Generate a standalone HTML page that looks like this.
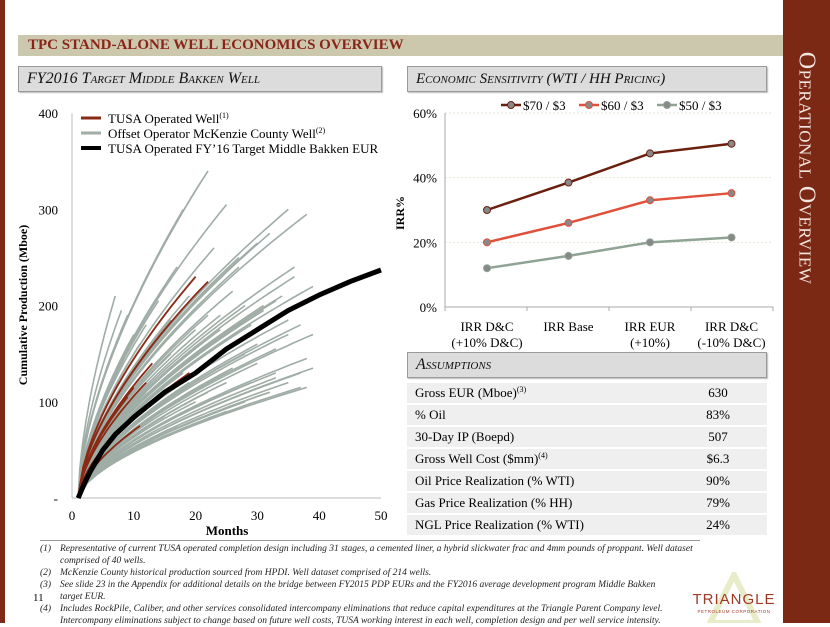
<!DOCTYPE html>
<html><head><meta charset="utf-8">
<style>
body{margin:0;width:830px;height:623px;overflow:hidden;background:#fff;font-family:"Liberation Serif",serif;position:relative}
.abs{position:absolute}
.sub{position:absolute;background:#dcdcdc;border:1px solid #9a9a9a;box-shadow:1px 1px 1px #bbb;font-style:italic;font-variant:small-caps;font-size:16px;color:#111;padding-left:8px;line-height:24px;box-sizing:border-box}
.row{position:absolute;left:407px;width:360px;height:20px;background:#efefef;font-size:13px;line-height:20px}
.row span{position:absolute;white-space:nowrap}
.row span.v{left:281px;width:60px;text-align:center}
.row sup{font-size:8px;line-height:0;vertical-align:5px}
.fn{position:absolute;left:60px;font-style:italic;font-size:9.5px;line-height:12px;color:#222;width:645px}
.fn b{position:absolute;left:-20px;font-weight:normal}
</style></head><body>
<div class="abs" style="left:0;top:0;width:5px;height:623px;background:#7e2a14"></div>
<div class="abs" style="left:783px;top:0;width:47px;height:623px;background:#7b2814"></div>
<div class="abs" style="left:806px;top:168px;width:0;height:0"><div style="position:absolute;transform:translate(-50%,-50%) rotate(90deg);white-space:nowrap;color:#f3e6e0;font-size:24px;font-variant:small-caps;letter-spacing:0.5px">Operational Overview</div></div>
<div class="abs" style="left:18px;top:35px;width:765px;height:21px;background:#cbc8ad;color:#8b2318;font-weight:bold;font-size:15px;line-height:21px;padding-left:10px;box-sizing:border-box">TPC STAND-ALONE WELL ECONOMICS OVERVIEW</div>
<div class="sub" style="left:18px;top:66px;width:364px;height:26px">FY2016 Target Middle Bakken Well</div>
<div class="sub" style="left:407px;top:66px;width:360px;height:26px;font-size:15px">Economic Sensitivity (WTI / HH Pricing)</div>

<svg class="abs" style="left:0;top:95px" width="400" height="450" id="lc"></svg>
<svg class="abs" style="left:395px;top:95px" width="385" height="255" id="rc"></svg>

<div class="sub" style="left:407px;top:352px;width:360px;height:26px">Assumptions</div>
<div class="row" style="top:383px"><span style="left:8px">Gross EUR (Mboe)<sup>(3)</sup></span><span class="v">630</span></div>
<div class="row" style="top:405px"><span style="left:8px">% Oil</span><span class="v">83%</span></div>
<div class="row" style="top:427px"><span style="left:8px">30-Day IP (Boepd)</span><span class="v">507</span></div>
<div class="row" style="top:449px"><span style="left:8px">Gross Well Cost ($mm)<sup>(4)</sup></span><span class="v">$6.3</span></div>
<div class="row" style="top:471px"><span style="left:8px">Oil Price Realization (% WTI)</span><span class="v">90%</span></div>
<div class="row" style="top:493px"><span style="left:8px">Gas Price Realization (% HH)</span><span class="v">79%</span></div>
<div class="row" style="top:515px"><span style="left:8px">NGL Price Realization (% WTI)</span><span class="v">24%</span></div>

<div class="abs" style="left:40px;top:540px;width:660px;height:1px;background:#999"></div>
<div class="fn" style="top:543px"><b>(1)</b>Representative of current TUSA operated completion design including 31 stages, a cemented liner, a hybrid slickwater frac and 4mm pounds of proppant. Well dataset comprised of 40 wells.</div>
<div class="fn" style="top:567px"><b>(2)</b>McKenzie County historical production sourced from HPDI. Well dataset comprised of 214 wells.</div>
<div class="fn" style="top:579px;width:615px"><b>(3)</b>See slide 23 in the Appendix for additional details on the bridge between FY2015 PDP EURs and the FY2016 average development program Middle Bakken target EUR.</div>
<div class="fn" style="top:603px;width:630px"><b>(4)</b>Includes RockPile, Caliber, and other services consolidated intercompany eliminations that reduce capital expenditures at the Triangle Parent Company level. Intercompany eliminations subject to change based on future well costs, TUSA working interest in each well, completion design and per well service intensity.</div>
<div class="abs" style="left:33px;top:592px;font-size:11px">11</div>
<svg class="abs" style="left:692px;top:572px" width="88" height="51"><polygon points="42,3 18,51 66,51" fill="none" stroke="#e9ecc8" stroke-width="6"/><text x="42" y="32" text-anchor="middle" font-family="Liberation Sans" font-size="15" fill="#9c3a26" letter-spacing="1">TRIANGLE</text><text x="42" y="41" text-anchor="middle" font-family="Liberation Sans" font-size="4.5" fill="#9c3a26" letter-spacing="0.5">PETROLEUM CORPORATION</text></svg>

<script>
// ---------- Left chart data ----------
const eurMonths=[1,2,3,5,7,10,15,20,25,30,35,40,45,50];
const eurValues=[0,15,28,50,66,84,110,130,155,175,195,211,225,237];
// gray offset wells: end month, end cumulative
const offsetEndMonth=[7,8,9,10,11,12,13,14,15,16,17,18,19,20,21,22,22,23,24,25,26,27,28,29,30,31,32,33,34,35,36,37,38,39,38,35,33,30,28,25,22,20,18,16,14,12,20,24,27,31,35,39,36,33,30,26,23,19,15,29,32,37,38,35,39,32,28,25,37,33,21,17];
const offsetEndValue=[210,195,190,170,160,180,200,205,220,185,240,300,210,230,330,340,190,260,175,305,215,250,200,180,265,195,275,205,210,300,240,180,295,220,145,170,130,160,150,120,110,100,130,150,95,110,175,190,240,200,185,170,230,155,140,135,165,120,85,120,110,115,115,120,135,110,100,90,130,125,80,75];
// red TUSA wells
const tusaEndMonth=[20,22,13,19,12,12,10,9,11,15];
const tusaEndValue=[230,225,140,130,120,95,115,105,75,175];
const yTicks=[0,100,200,300,400];
const yTickLabels=["-","100","200","300","400"];
const xTicks=[0,10,20,30,40,50];

// ---------- Right chart data ----------
const irrCategories=[["IRR D&C","(+10% D&C)"],["IRR Base",""],["IRR EUR","(+10%)"],["IRR D&C","(-10% D&C)"]];
const s70=[30,38.5,47.5,50.5];
const s60=[20,26,33,35.2];
const s50=[12,15.8,20,21.5];
const seriesNames=["$70 / $3","$60 / $3","$50 / $3"];
const irrTicks=[0,20,40,60];

const NS="http://www.w3.org/2000/svg";
function mk(p,t,a){const e=document.createElementNS(NS,t);for(const k in a)e.setAttribute(k,a[k]);p.appendChild(e);return e;}

// left chart (svg top = 95)
const lc=document.getElementById('lc');
const lx=m=>72+m*(381-72)/50, ly=v=>403-v*0.962;
let ax=mk(lc,'line',{x1:72,y1:ly(0),x2:381,y2:ly(0),stroke:'#bbb'});

ax=mk(lc,'line',{x1:72,y1:ly(0),x2:72,y2:ly(400),stroke:'#bbb'});

yTicks.forEach((v,i)=>{const t=mk(lc,'text',{x:58,y:ly(v)+5,'text-anchor':'end','font-size':13,'font-family':'Liberation Serif'});t.textContent=yTickLabels[i];
});
xTicks.forEach(v=>{const t=mk(lc,'text',{x:lx(v),y:ly(0)+22,'text-anchor':'middle','font-size':13,'font-family':'Liberation Serif'});t.textContent=v;
});
function wellPath(T,V){let d='';for(let i=0;i<=24;i++){const m=1+(T-1)*i/24;const f=Math.pow(i/24,0.62);d+=(i?'L':'M')+lx(m).toFixed(1)+','+ly(V*f).toFixed(1);}return d;}
offsetEndMonth.forEach((T,i)=>{const p=mk(lc,'path',{d:wellPath(T,offsetEndValue[i]),fill:'none',stroke:'#9fada6','stroke-width':1.6});
});
tusaEndMonth.forEach((T,i)=>{const p=mk(lc,'path',{d:wellPath(T,tusaEndValue[i]),fill:'none',stroke:'#8b2a14','stroke-width':1.8});
});
let ed='';eurMonths.forEach((m,i)=>{ed+=(i?'L':'M')+lx(m)+','+ly(eurValues[i]);});
const eur=mk(lc,'path',{d:ed,fill:'none',stroke:'#000','stroke-width':5});

// legend
const leg=[['#8b2a14','TUSA Operated Well','(1)',3],['#9fada6','Offset Operator McKenzie County Well','(2)',3],['#000','TUSA Operated FY\u201916 Target Middle Bakken EUR','',4]];
leg.forEach((l,i)=>{const y=23+i*15;const g=mk(lc,'g',{});
mk(g,'line',{x1:81,x2:101,y1:y,y2:y,stroke:l[0],'stroke-width':l[3]});
const t=mk(g,'text',{x:108,y:y+5,'font-size':13,'font-family':'Liberation Serif'});t.textContent=l[1];
if(l[2]){const s=mk(t,'tspan',{'font-size':8,dy:-5});s.textContent=l[2];}});
let t=mk(lc,'text',{x:227,y:440,'text-anchor':'middle','font-size':13,'font-weight':'bold','font-family':'Liberation Serif'});t.textContent='Months';

t=mk(lc,'text',{x:0,y:0,'text-anchor':'middle','font-size':12,'font-weight':'bold','font-family':'Liberation Serif',transform:'translate(27,210) rotate(-90)'});t.textContent='Cumulative Production (Mboe)';


// right chart (svg left 395, top 95)
const rc=document.getElementById('rc');
const rx=i=>92+i*81.5, ry=v=>212-v*(194/60);
irrTicks.forEach(v=>{if(v>0){const g=mk(rc,'line',{x1:50,x2:378,y1:ry(v),y2:ry(v),stroke:'#e6e6d8','stroke-dasharray':'2,2'});}
const t=mk(rc,'text',{x:42,y:ry(v)+5,'text-anchor':'end','font-size':13,'font-family':'Liberation Serif'});t.textContent=v+'%';
});
ax=mk(rc,'line',{x1:50,x2:378,y1:ry(0),y2:ry(0),stroke:'#aaa'});
ax=mk(rc,'line',{x1:50,x2:50,y1:ry(0),y2:ry(60),stroke:'#aaa'});
for(let i=0;i<=4;i++){const k=mk(rc,'line',{x1:50+i*82,x2:50+i*82,y1:ry(0),y2:ry(0)+4,stroke:'#aaa'});}
irrCategories.forEach((c,i)=>{c.forEach((s,j)=>{if(!s)return;const t=mk(rc,'text',{x:rx(i),y:ry(0)+24+j*16,'text-anchor':'middle','font-size':13,'font-family':'Liberation Serif'});t.textContent=s;
});});
const sData=[s70,s60,s50], sCol=['#6b1f0e','#e0503a','#8ea393'];
sData.forEach((arr,si)=>{let d='';arr.forEach((v,i)=>{d+=(i?'L':'M')+rx(i)+','+ry(v);});
const p=mk(rc,'path',{d:d,fill:'none',stroke:sCol[si],'stroke-width':2.5});
arr.forEach((v,i)=>{const c=mk(rc,'circle',{cx:rx(i),cy:ry(v),r:3.5,fill:'#888',stroke:sCol[si],'stroke-width':1});});
const lxp=106+si*78;const g=mk(rc,'g',{});
mk(g,'line',{x1:lxp,x2:lxp+20,y1:10,y2:10,stroke:sCol[si],'stroke-width':2.5});mk(g,'circle',{cx:lxp+10,cy:10,r:3.5,fill:'#888',stroke:sCol[si]});
const t=mk(g,'text',{x:lxp+22,y:15,'font-size':13,'font-family':'Liberation Serif'});t.textContent=seriesNames[si];});
t=mk(rc,'text',{x:0,y:0,'text-anchor':'middle','font-size':12,'font-weight':'bold','font-family':'Liberation Serif',transform:'translate(9,118) rotate(-90)'});t.textContent='IRR%';

</script>
</body></html>
